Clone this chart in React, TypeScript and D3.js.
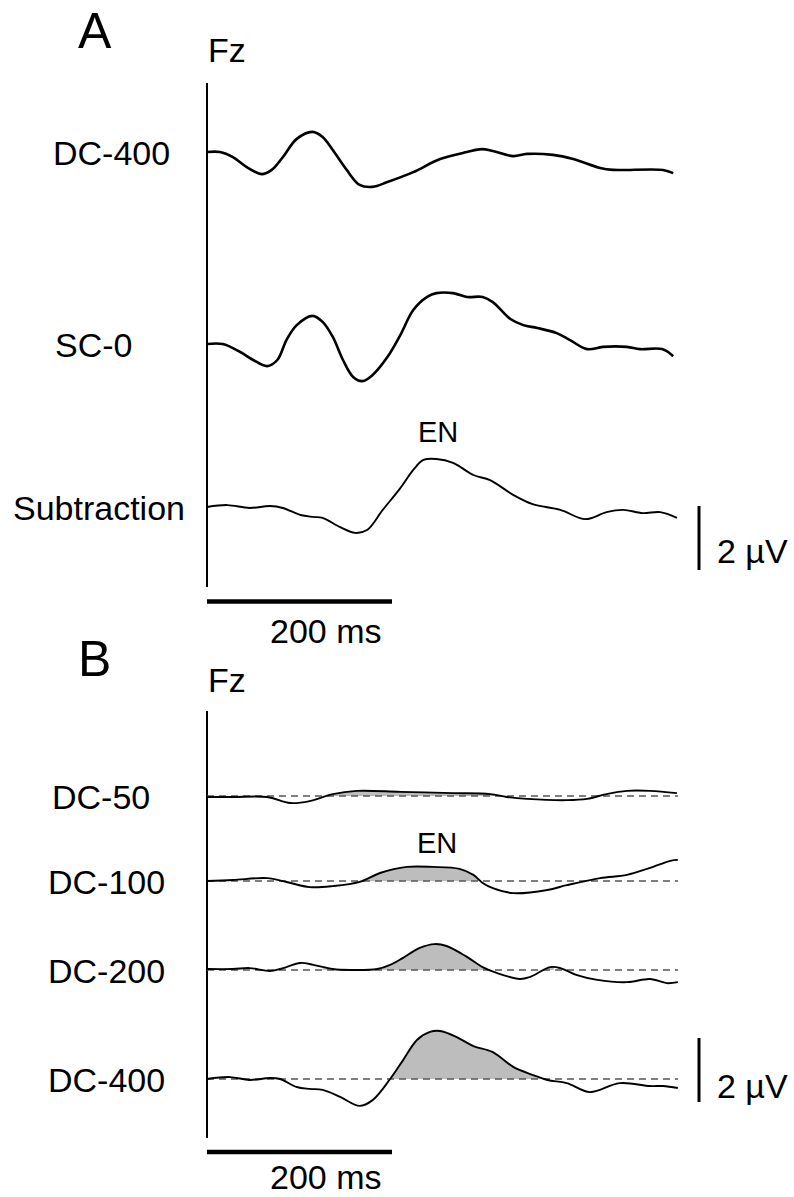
import React from 'react';
import * as d3 from 'd3';

// time (ms) and amplitude (µV, positive plotted downward)
const dc400A: [number, number][] = [
  [0, 0], [14, 0], [28, 0.16], [43, 0.47], [59, 0.69], [70, 0.56], [82, 0.16], [97, -0.41],
  [114, -0.63], [125, -0.47], [136, -0.06], [151, 0.56], [165, 1.03], [179, 1.09], [195, 0.94],
  [223, 0.63], [252, 0.22], [281, 0], [297, -0.09], [309, -0.03], [331, 0.13], [346, 0.06],
  [374, 0.09], [396, 0.22], [425, 0.5], [439, 0.56], [493, 0.56], [504, 0.66],
];

const sc0A: [number, number][] = [
  [0, 0], [17, 0], [36, 0.25], [50, 0.5], [65, 0.69], [76, 0.5], [86, -0.13], [97, -0.59],
  [114, -0.88], [125, -0.69], [136, -0.22], [147, 0.5], [158, 1.03], [168, 1.16], [179, 0.97],
  [195, 0.41], [209, -0.28], [223, -1.06], [238, -1.47], [248, -1.59], [266, -1.59], [281, -1.47],
  [298, -1.47], [309, -1.31], [328, -0.78], [342, -0.59], [357, -0.5], [378, -0.34], [392, -0.13],
  [411, 0.16], [428, 0.09], [454, 0.09], [468, 0.16], [492, 0.16], [504, 0.38],
];

const subtractionA: [number, number][] = [
  [0, 0], [22, -0.06], [46, 0.03], [68, -0.03], [82, 0.03], [101, 0.25], [115, 0.31], [125, 0.34],
  [144, 0.63], [160, 0.81], [173, 0.72], [190, 0.09], [209, -0.59], [223, -1.16], [234, -1.47],
  [248, -1.5], [266, -1.38], [288, -1.0], [306, -0.84], [331, -0.38], [352, -0.09], [382, 0.09],
  [409, 0.38], [432, 0.16], [450, 0.09], [471, 0.19], [490, 0.16], [508, 0.34],
];

const dc50B: [number, number][] = [
  [0, 0.03], [28, 0.03], [65, 0.03], [90, 0.22], [111, 0.16], [136, -0.06], [162, -0.16],
  [209, -0.13], [266, -0.09], [306, -0.06], [324, 0.03], [346, 0.09], [389, 0.13], [411, 0.09],
  [432, -0.06], [454, -0.16], [479, -0.16], [508, -0.09],
];

const dc100B: [number, number][] = [
  [0, 0], [28, -0.03], [65, -0.09], [86, 0.03], [111, 0.19], [136, 0.16], [165, 0.03],
  [187, -0.25], [216, -0.44], [244, -0.44], [273, -0.38], [288, -0.19], [298, 0.06], [309, 0.22],
  [331, 0.38], [368, 0.28], [389, 0.13], [425, -0.09], [454, -0.19], [479, -0.41], [501, -0.63],
  [509, -0.66],
];

const dc200B: [number, number][] = [
  [0, -0.03], [28, -0.03], [46, -0.06], [68, 0.03], [79, -0.03], [101, -0.22], [115, -0.16],
  [136, -0.03], [155, 0], [184, -0.03], [198, -0.16], [212, -0.38], [230, -0.69], [246, -0.81],
  [259, -0.75], [281, -0.41], [298, -0.09], [313, 0.09], [338, 0.28], [349, 0.22], [371, -0.09],
  [382, -0.06], [400, 0.16], [422, 0.31], [454, 0.38], [479, 0.28], [497, 0.41], [509, 0.38],
];

const dc400B: [number, number][] = [
  [0, 0], [25, -0.06], [46, 0.03], [68, -0.03], [79, 0], [97, 0.25], [111, 0.31], [125, 0.34],
  [144, 0.56], [165, 0.84], [179, 0.66], [198, 0], [212, -0.59], [227, -1.22], [241, -1.47],
  [252, -1.5], [270, -1.31], [288, -1.03], [309, -0.84], [331, -0.38], [352, -0.13], [368, 0.03],
  [389, 0.13], [414, 0.41], [446, 0.13], [479, 0.22], [493, 0.22], [509, 0.28],
];

const panelATraces = [
  { label: 'DC-400', data: dc400A, base: 152, labelX: 53, width: 2.6 },
  { label: 'SC-0', data: sc0A, base: 344, labelX: 55, width: 2.6 },
  { label: 'Subtraction', data: subtractionA, base: 507, labelX: 13, width: 1.9 },
];

const panelBTraces = [
  { label: 'DC-50', data: dc50B, base: 796, labelX: 52 },
  { label: 'DC-100', data: dc100B, base: 881, labelX: 48 },
  { label: 'DC-200', data: dc200B, base: 970, labelX: 48 },
  { label: 'DC-400', data: dc400B, base: 1079, labelX: 48 },
];

const enWindow = [125, 375];
const FONT = '"Liberation Sans", Arial, Helvetica, sans-serif';
const PX_PER_UV = 32;

const x = d3.scaleLinear().domain([0, 200]).range([207, 392]);
const yFor = (base: number) => d3.scaleLinear().domain([0, 2]).range([base, base + 2 * PX_PER_UV]);

const lineFor = (base: number) => {
  const y = yFor(base);
  return d3.line<[number, number]>()
    .x(d => x(d[0]))
    .y(d => y(d[1]))
    .curve(d3.curveCatmullRom.alpha(0.5));
};

const areaFor = (base: number) => {
  const y = yFor(base);
  return d3.area<[number, number]>()
    .x(d => x(d[0]))
    .y0(base)
    .y1(d => y(d[1]))
    .curve(d3.curveCatmullRom.alpha(0.5));
};

const App = () => {
  const yA = yFor(507);
  const yB = yFor(1079);
  return (
    <div style={{ position: 'absolute', left: 0, top: 0 }}>
      <svg width={794} height={1197} style={{ display: 'block', background: '#fff' }} fontFamily={FONT}>
        <defs>
          {panelBTraces.map((t, i) => (
            <clipPath id={`clip${i}`} key={i}>
              <rect x={x(enWindow[0])} y={t.base - 80} width={x(enWindow[1]) - x(enWindow[0])} height={80} />
            </clipPath>
          ))}
        </defs>

        {/* Panel A */}
        <text x={78} y={48} fontSize={50}>A</text>
        <text x={208} y={62} fontSize={34}>Fz</text>
        <line x1={207} x2={207} y1={83} y2={587} stroke="#000" strokeWidth={2} />
        {panelATraces.map(t => (
          <g key={t.label}>
            <text x={t.labelX} y={t.base + 13} fontSize={34}>{t.label}</text>
            <path d={lineFor(t.base)(t.data) || ''} fill="none" stroke="#000" strokeWidth={t.width} />
          </g>
        ))}
        <text x={418} y={442} fontSize={29}>EN</text>
        <line x1={x(0)} x2={x(200)} y1={601.5} y2={601.5} stroke="#000" strokeWidth={4.5} />
        <text x={270} y={643} fontSize={34}>200 ms</text>
        <line x1={699} x2={699} y1={yA(0) - 1} y2={yA(2) - 1} stroke="#000" strokeWidth={3} />
        <text x={717} y={563} fontSize={34}>2 µV</text>

        {/* Panel B */}
        <text x={78} y={676} fontSize={50}>B</text>
        <text x={208} y={692} fontSize={34}>Fz</text>
        <line x1={207} x2={207} y1={711} y2={1138} stroke="#000" strokeWidth={2} />
        {panelBTraces.map((t, i) => (
          <g key={t.label}>
            <text x={t.labelX} y={t.base + 13} fontSize={34}>{t.label}</text>
            <path d={areaFor(t.base)(t.data) || ''} fill="#bdbdbd" stroke="none" clipPath={`url(#clip${i})`} />
            <line x1={207} x2={678} y1={t.base} y2={t.base} stroke="#555" strokeWidth={1.3} strokeDasharray="7 5" />
            <path d={lineFor(t.base)(t.data) || ''} fill="none" stroke="#000" strokeWidth={1.9} />
          </g>
        ))}
        <text x={417} y={853} fontSize={29}>EN</text>
        <line x1={x(0)} x2={x(200)} y1={1152} y2={1152} stroke="#000" strokeWidth={4.5} />
        <text x={270} y={1189} fontSize={34}>200 ms</text>
        <line x1={699} x2={699} y1={yB(-1.28)} y2={yB(0.72)} stroke="#000" strokeWidth={3} />
        <text x={717} y={1098} fontSize={34}>2 µV</text>
      </svg>
    </div>
  );
};

export default App;
